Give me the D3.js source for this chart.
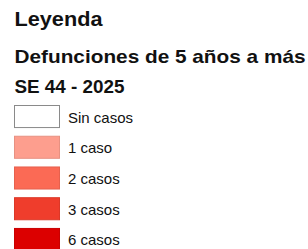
<!DOCTYPE html>
<html>
<head>
<meta charset="utf-8">
<script src="https://cdn.jsdelivr.net/npm/d3@7"></script>
<style>
html,body{margin:0;padding:0;background:#fff;overflow:hidden;}
svg{display:block;}
</style>
</head>
<body>
<script>
const titleText = "Leyenda";
const subtitleText = "Defunciones de 5 años a más";
const periodText = "SE 44 - 2025";
const categories = ["Sin casos", "1 caso", "2 casos", "3 casos", "6 casos"];
const caseCounts = [0, 1, 2, 3, 6];
const colors = ["#ffffff", "#fd9e8e", "#fb6a55", "#ef3d2c", "#dc0000"];

const W = 308, H = 249;
const svg = d3.select("body").append("svg").attr("width", W).attr("height", H);

const font = "'Liberation Sans', Arial, sans-serif";

svg.append("text").attr("x", 14.5).attr("y", 26)
  .attr("font-family", font).attr("font-weight", "bold").attr("font-size", 19.5)
  .attr("textLength", 88).attr("lengthAdjust", "spacingAndGlyphs")
  .attr("fill", "#111").text(titleText);

svg.append("text").attr("x", 14.5).attr("y", 63.3)
  .attr("font-family", font).attr("font-weight", "bold").attr("font-size", 18.6)
  .attr("textLength", 291).attr("lengthAdjust", "spacingAndGlyphs")
  .attr("fill", "#111").text(subtitleText);

svg.append("text").attr("x", 14.5).attr("y", 93.3)
  .attr("font-family", font).attr("font-weight", "bold").attr("font-size", 18.6)
  .attr("textLength", 110).attr("lengthAdjust", "spacingAndGlyphs")
  .attr("fill", "#111").text(periodText);

const y = d3.scaleBand().domain(categories).range([105, 251]).paddingInner(0.25).paddingOuter(0);
const color = d3.scaleOrdinal().domain(categories).range(colors);

const rows = svg.selectAll("g.row").data(categories).enter().append("g").attr("class", "row");

rows.append("rect")
  .attr("x", 14.5).attr("y", d => y(d) + 0.5)
  .attr("width", 45).attr("height", y.bandwidth() - 1)
  .attr("fill", d => color(d))
  .attr("stroke", (d, i) => i === 0 ? "#8a8a8a" : d3.color(color(d)).darker(0.25))
  .attr("stroke-width", 1);

rows.append("text")
  .attr("x", 68).attr("y", d => y(d) + y.bandwidth() / 2 + 6)
  .attr("font-family", font).attr("font-size", 15)
  .attr("fill", "#111").text(d => d);
</script>
</body>
</html>
